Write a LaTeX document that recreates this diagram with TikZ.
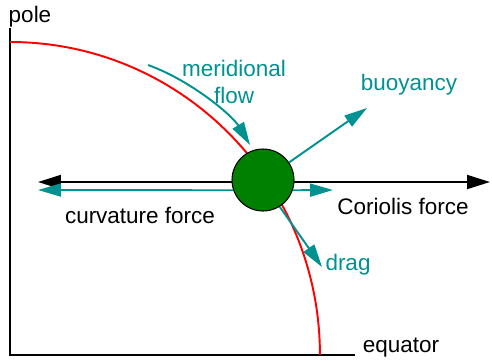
\documentclass[tikz,border=0pt]{standalone}
\usepackage{fontspec}
\setmainfont{Liberation Sans}
\usepackage{xcolor}
\usetikzlibrary{arrows.meta, positioning, calc}
\definecolor{forceteal}{RGB}{0,145,145}
\definecolor{ballgreen}{RGB}{0,128,0}
\tikzset{
  % Axis and label styles
  axis/.style={line width=1.2pt, black},
  lbl/.style={font=\fontsize{12.8}{15}\selectfont, inner sep=1pt},
  forcelbl/.style={lbl, text=forceteal, align=center},
  % Arrow styles
  bigarrow/.style={line width=1.1pt, black, {Triangle[length=4.6mm, width=2.8mm]}-{Triangle[length=4.6mm, width=2.8mm]}},
  force/.style={line width=1.1pt, forceteal, -{Triangle[length=4.6mm, width=2.6mm]}},
  % Parcel
  parcel/.style={circle, draw=black, fill=ballgreen, minimum size=1.24cm, inner sep=0pt, line width=0.6pt},
}
\begin{document}
\begin{tikzpicture}[x=0.02cm, y=0.02cm]
    \useasboundingbox (0,0) rectangle (492,360);

    % Axes
    \node[lbl] (pole) at (30,343) {pole};
    \node[lbl] (equator) at (401,12) {equator};
    \coordinate (top) at (10,332);
    \coordinate (origin) at (10,5);
    \coordinate (eqend) at (355,5);
    \draw[axis] (top) -- (origin) -- (eqend);

    % Meridian
    \draw[red, line width=1.1pt] (10,318) arc[start angle=90, end angle=0, x radius=6.2cm, y radius=6.26cm];

    % Horizontal force line
    \coordinate (bl) at (38,178);
    \coordinate (br) at (490,178);
    \draw[bigarrow] (bl) -- (br);

    % Parcel
    \node[parcel] (ball) at (263,180) {};

    % Forces
    \coordinate (curv) at (38,170);
    \coordinate (cor) at (333,170);
    \coordinate (flowstart) at (148,295);
    \coordinate (flowend) at (250,215);
    \coordinate (buoy) at (367,252);
    \coordinate (drg) at (322,93);
    \draw[force] (ball.-161) -- (curv);
    \draw[force] (ball.-19) -- (cor);
    \draw[force] (flowstart) .. controls (190,280) and (232,245) .. (flowend);
    \draw[force] (ball.34) -- (buoy);
    \draw[force] (ball.-58) -- (drg);

    % Labels
    \node[lbl] (curvlbl) at (140,145) {curvature force};
    \node[lbl] (corlbl) at (403,154) {Coriolis force};
    \node[forcelbl] (flowlbl) at (234,278) {meridional\\flow};
    \node[forcelbl] (buoylbl) at (409,275) {buoyancy};
    \node[forcelbl] (drglbl) at (348,95) {drag};
  \end{tikzpicture}
\end{document}
